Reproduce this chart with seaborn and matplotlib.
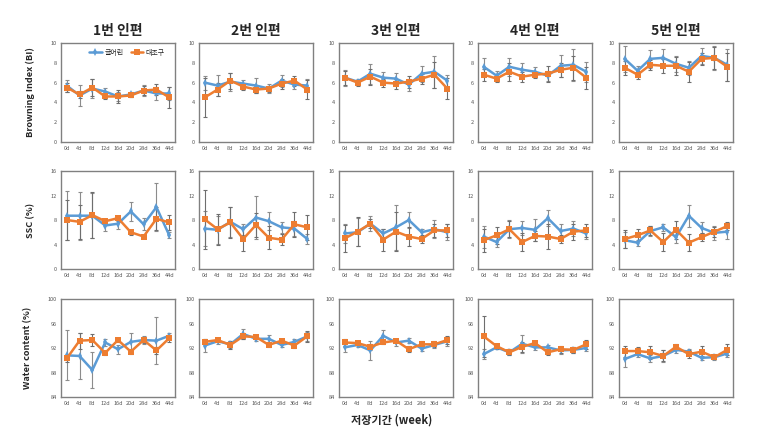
import matplotlib as mpl
mpl.use('Agg')
import numpy as np
import pandas as pd
import seaborn as sns
import matplotlib.pyplot as plt

sns.set_style('white')
plt.rcParams['font.family'] = ['Noto Sans CJK KR', 'DejaVu Sans']

days = ['0d', '4d', '8d', '12d', '16d', '20d', '28d', '36d', '44d']
titles = ['1번 인편', '2번 인편', '3번 인편', '4번 인편', '5번 인편']
series_names = ['글어린', '대조구']
row_labels = ['Browning Index (BI)', 'SSC (%)', 'Water content (%)']

# Browning index
bi_a = [[5.7, 4.7, 5.4, 5.1, 4.6, 4.8, 5.2, 4.9, 4.9],
        [6.0, 5.7, 6.1, 5.9, 5.7, 5.4, 6.2, 5.8, 5.7],
        [6.5, 6.1, 6.9, 6.5, 6.4, 5.8, 6.9, 7.1, 6.2],
        [7.6, 6.7, 7.6, 7.3, 7.1, 6.7, 7.7, 7.8, 7.1],
        [8.4, 7.2, 8.4, 8.5, 7.9, 7.5, 8.7, 8.5, 7.8]]
bi_a_err = [[0.6, 1.1, 1.0, 0.4, 0.5, 0.3, 0.6, 0.7, 0.7],
            [0.7, 1.1, 0.9, 0.4, 0.8, 0.5, 0.6, 0.4, 0.7],
            [0.8, 0.3, 1.0, 0.6, 0.6, 0.6, 0.8, 1.6, 0.6],
            [0.9, 0.5, 0.9, 0.7, 0.5, 0.5, 1.1, 1.6, 1.0],
            [1.3, 0.5, 0.9, 0.9, 0.8, 0.7, 0.8, 1.2, 1.6]]
bi_b = [[5.5, 4.8, 5.5, 4.6, 4.6, 4.7, 5.2, 5.3, 4.5],
        [4.5, 5.3, 6.2, 5.6, 5.3, 5.4, 5.9, 6.2, 5.3],
        [6.5, 6.0, 6.6, 6.0, 5.9, 6.1, 6.4, 6.8, 5.4],
        [6.8, 6.4, 7.1, 6.6, 6.8, 6.9, 7.3, 7.5, 6.5],
        [7.5, 6.8, 7.8, 7.7, 7.7, 7.1, 8.4, 8.5, 7.6]]
bi_b_err = [[0.5, 0.4, 0.9, 0.3, 0.7, 0.2, 0.5, 0.6, 1.1],
            [2.0, 0.7, 0.8, 0.3, 0.4, 0.3, 0.5, 0.5, 1.0],
            [0.7, 0.3, 0.8, 0.4, 0.5, 0.6, 0.5, 1.3, 1.1],
            [0.6, 0.3, 0.9, 0.5, 0.3, 0.8, 0.7, 1.2, 1.1],
            [0.7, 0.4, 0.5, 0.7, 0.9, 1.0, 0.6, 1.1, 1.4]]

# SSC
ssc_a = [[8.7, 8.7, 8.7, 7.1, 7.4, 9.4, 7.3, 10.1, 5.5],
         [6.6, 6.4, 7.7, 6.5, 8.4, 7.8, 6.8, 6.6, 4.9],
         [5.8, 6.0, 7.4, 5.8, 6.8, 8.0, 6.0, 6.5, 6.0],
         [5.3, 4.4, 6.5, 6.7, 6.4, 8.3, 6.2, 6.6, 5.8],
         [4.7, 4.3, 6.2, 6.8, 5.2, 8.7, 6.7, 5.9, 6.1]]
ssc_a_err = [[4.0, 3.9, 3.7, 0.9, 0.8, 1.6, 1.0, 3.9, 0.5],
             [2.8, 2.3, 2.5, 0.9, 3.5, 1.5, 0.9, 1.2, 0.8],
             [1.6, 2.3, 1.2, 0.8, 3.7, 1.3, 0.6, 1.5, 1.3],
             [1.8, 0.8, 1.5, 1.2, 1.8, 1.3, 1.2, 1.2, 0.9],
             [1.3, 0.5, 0.8, 0.6, 1.0, 1.8, 0.9, 1.2, 1.2]]
ssc_b = [[8.0, 7.7, 8.8, 7.8, 8.3, 6.0, 5.3, 8.2, 7.6],
         [8.1, 6.5, 7.6, 4.9, 7.2, 5.1, 4.8, 7.3, 6.8],
         [5.0, 6.1, 7.4, 4.8, 6.1, 5.3, 4.9, 6.3, 6.3],
         [4.7, 5.5, 6.5, 4.4, 5.4, 5.3, 4.9, 6.1, 6.3],
         [4.9, 5.5, 6.3, 4.4, 6.4, 4.3, 5.2, 6.1, 7.0]]
ssc_b_err = [[3.3, 2.8, 3.8, 0.3, 0.4, 0.4, 0.3, 1.9, 1.2],
             [4.8, 2.5, 2.5, 2.0, 2.0, 1.9, 0.9, 2.0, 2.0],
             [2.2, 2.4, 0.7, 1.8, 3.2, 1.5, 0.6, 1.0, 1.0],
             [1.9, 1.4, 1.3, 1.4, 0.8, 2.1, 0.6, 1.3, 1.0],
             [1.4, 1.0, 0.8, 1.4, 1.5, 1.4, 0.7, 0.8, 0.6]]

# Water content
wc_a = [[90.8, 90.7, 88.4, 92.9, 91.8, 93.0, 93.3, 93.2, 94.0],
        [92.4, 93.1, 92.6, 94.3, 93.5, 93.5, 92.5, 93.0, 93.9],
        [92.1, 92.5, 91.6, 94.0, 92.9, 93.2, 91.9, 92.5, 93.1],
        [91.0, 92.1, 91.3, 92.7, 92.1, 92.1, 91.6, 91.7, 92.0],
        [90.2, 91.0, 90.3, 90.7, 91.7, 91.4, 90.4, 90.5, 91.1]]
wc_a_err = [[4.1, 3.8, 3.0, 0.6, 0.7, 1.5, 0.7, 3.8, 0.5],
            [1.0, 0.4, 0.6, 0.8, 0.3, 0.6, 0.4, 0.5, 0.7],
            [0.7, 0.4, 1.5, 0.9, 0.5, 0.4, 0.4, 0.5, 0.7],
            [0.8, 0.3, 0.5, 1.5, 0.4, 0.4, 0.5, 0.5, 0.5],
            [1.3, 0.4, 0.6, 1.0, 0.5, 0.4, 0.3, 0.5, 0.5]]
wc_b = [[90.3, 93.2, 93.3, 91.2, 93.3, 91.4, 93.3, 91.6, 93.6],
        [93.0, 93.3, 92.5, 93.9, 93.8, 92.5, 93.2, 92.4, 93.9],
        [92.9, 92.8, 92.2, 92.9, 93.2, 91.8, 92.6, 92.6, 93.3],
        [93.9, 92.3, 91.3, 92.2, 92.8, 91.3, 91.8, 91.7, 92.6],
        [91.5, 91.5, 91.3, 90.7, 92.2, 91.0, 91.4, 90.5, 91.7]]
wc_b_err = [[0.6, 1.3, 1.0, 0.3, 0.3, 0.3, 0.5, 0.5, 0.6],
            [0.4, 0.3, 0.6, 0.5, 0.3, 0.4, 0.3, 0.4, 0.9],
            [0.6, 0.3, 0.5, 0.3, 0.3, 0.5, 0.5, 0.5, 0.6],
            [3.4, 0.4, 0.5, 0.8, 0.4, 0.5, 0.6, 0.5, 0.7],
            [0.9, 0.6, 1.1, 0.9, 0.5, 0.6, 0.9, 0.3, 0.9]]

rows = [(bi_a, bi_a_err, bi_b, bi_b_err, (0, 10), [0, 2, 4, 6, 8, 10]),
        (ssc_a, ssc_a_err, ssc_b, ssc_b_err, (0, 16), [0, 4, 8, 12, 16]),
        (wc_a, wc_a_err, wc_b, wc_b_err, (84, 100), [84, 88, 92, 96, 100])]

blue = '#5B9BD5'
orange = '#ED7D31'
W, H = 772, 436
col_px = [61, 199, 339, 478, 619]
row_px = [(43, 142), (171, 269), (299, 397)]

fig = plt.figure(figsize=(W / 100, H / 100), dpi=100)
x = np.arange(len(days))

for r, (ya, ea, yb, eb, ylim, yticks) in enumerate(rows):
    top, bot = row_px[r]
    for c in range(5):
        ax = fig.add_axes([col_px[c] / W, 1 - bot / H, 114 / W, (bot - top) / H])
        df = pd.DataFrame({'x': np.concatenate([x, x]),
                           'y': ya[c] + yb[c],
                           's': [series_names[0]] * 9 + [series_names[1]] * 9})
        ax.errorbar(x, ya[c], yerr=ea[c], fmt='none', ecolor='#8c8c8c',
                    elinewidth=0.8, capsize=1.5, capthick=0.8, zorder=1)
        ax.errorbar(x, yb[c], yerr=eb[c], fmt='none', ecolor='#6e6e6e',
                    elinewidth=0.8, capsize=1.5, capthick=0.8, zorder=1)
        sns.lineplot(data=df, x='x', y='y', hue='s', style='s',
                     palette=[blue, orange], markers=['d', 's'], dashes=False,
                     markersize=4, markeredgewidth=0, linewidth=1.8,
                     ax=ax, legend=(r == 0 and c == 0), zorder=3)
        ax.set_xlim(-0.45, 8.45)
        ax.set_ylim(*ylim)
        ax.set_yticks(yticks)
        ax.set_xticks(x)
        ax.set_xticklabels(days)
        ax.tick_params(labelsize=4, colors='#555555', length=0, pad=3)
        for sp in ax.spines.values():
            sp.set_color('#808080')
            sp.set_linewidth(1.0)
        ax.set_xlabel('')
        if c == 0:
            ax.set_ylabel(row_labels[r], fontsize=6.6, fontweight='bold', labelpad=11)
        else:
            ax.set_ylabel('')
        if r == 0:
            ax.set_title(titles[c], fontsize=10, fontweight='bold', pad=6)
        if r == 0 and c == 0:
            ax.legend(loc='upper center', ncol=2, frameon=False, fontsize=5,
                      handlelength=1.8, handletextpad=0.4, columnspacing=1.0,
                      borderaxespad=0.4, bbox_to_anchor=(0.58, 1.0), title=None)

fig.text(392 / W, 1 - 420 / H, '저장기간 (week)', ha='center', va='center',
         fontsize=8, fontweight='bold')

fig.savefig('out.png', dpi=100)
